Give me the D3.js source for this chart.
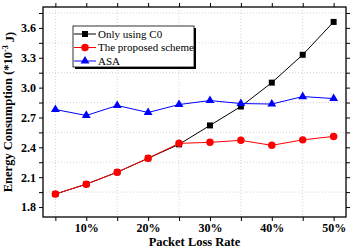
<!DOCTYPE html>
<html>
<head>
<meta charset="utf-8">
<script src="https://cdn.jsdelivr.net/npm/d3@7"></script>
<style>
  body { margin: 0; background: #fff; }
  text { font-family: "Liberation Serif", "Times New Roman", serif; }
</style>
</head>
<body>
<div id="chart"></div>
<script>
const lossRates = [5, 10, 15, 20, 25, 30, 35, 40, 45, 50];
const onlyC0 = [1.93, 2.03, 2.15, 2.29, 2.43, 2.62, 2.81, 3.05, 3.33, 3.66];
const proposed = [1.93, 2.03, 2.15, 2.29, 2.44, 2.45, 2.47, 2.42, 2.475, 2.51];
const asa = [2.78, 2.72, 2.82, 2.75, 2.83, 2.87, 2.84, 2.835, 2.91, 2.89];
const yLabels = [1.8, 2.1, 2.4, 2.7, 3.0, 3.3, 3.6];
const xLabels = [10, 20, 30, 40, 50];
const seriesNames = ["Only using C0", "The proposed scheme", "ASA"];

const width = 357, height = 249;
const margin = { top: 7, right: 11, bottom: 32, left: 43 };
const w = width - margin.left - margin.right;
const h = height - margin.top - margin.bottom;

const svg = d3.select("#chart").append("svg")
  .attr("width", width).attr("height", height);
const g = svg.append("g").attr("transform", `translate(${margin.left},${margin.top})`);

const x = d3.scaleLinear().domain([3, 52]).range([0, w]);
const y = d3.scaleLinear().domain([1.7, 3.81]).range([h, 0]);

const yTicks = d3.range(0, 14).map(i => +(1.8 + i * 0.15).toFixed(2));
const yMinor = yTicks.filter(v => !yLabels.some(l => Math.abs(l - v) < 1e-6));
const xMinor = lossRates.filter(v => !xLabels.includes(v));

// grid at the minor positions
g.append("g").selectAll("line").data(yMinor).join("line")
  .attr("x1", 0).attr("x2", w).attr("y1", d => y(d)).attr("y2", d => y(d))
  .attr("stroke", "#c8c8c8").attr("stroke-width", 0.8).attr("stroke-dasharray", "1,2");
g.append("g").selectAll("line").data(xMinor).join("line")
  .attr("y1", 0).attr("y2", h).attr("x1", d => x(d)).attr("x2", d => x(d))
  .attr("stroke", "#c8c8c8").attr("stroke-width", 0.8).attr("stroke-dasharray", "1,2");

// axes
const fmtY = d => yLabels.some(l => Math.abs(l - d) < 1e-6) ? d3.format(".1f")(d) : "";
const fmtX = d => xLabels.includes(d) ? d + "%" : "";

function styleAxis(sel) {
  sel.select(".domain").remove();
  sel.selectAll("line").attr("stroke", "#000").attr("stroke-width", 1);
  sel.selectAll("text").attr("font-size", "12px").attr("font-weight", "bold").attr("fill", "#000");
}
g.append("g").attr("transform", `translate(0,${h})`)
  .call(d3.axisBottom(x).tickValues(lossRates).tickFormat(fmtX).tickSize(4).tickPadding(2))
  .call(styleAxis);
g.append("g")
  .call(d3.axisTop(x).tickValues(lossRates).tickFormat("").tickSize(4))
  .call(styleAxis);
g.append("g")
  .call(d3.axisLeft(y).tickValues(yTicks).tickFormat(fmtY).tickSize(4).tickPadding(3))
  .call(styleAxis);
g.append("g").attr("transform", `translate(${w},0)`)
  .call(d3.axisRight(y).tickValues(yTicks).tickFormat("").tickSize(4))
  .call(styleAxis);

g.append("rect").attr("width", w).attr("height", h)
  .attr("fill", "none").attr("stroke", "#000").attr("stroke-width", 1.3);

// series
const series = [
  { name: seriesNames[0], values: onlyC0, color: "#000", symbol: d3.symbolSquare, size: 36 },
  { name: seriesNames[1], values: proposed, color: "#ff0000", symbol: d3.symbolCircle, size: 44 },
  { name: seriesNames[2], values: asa, color: "#0000ff", symbol: d3.symbolTriangle, size: 34 }
];
const line = d3.line().x((d, i) => x(lossRates[i])).y(d => y(d));
series.forEach(s => {
  g.append("path").datum(s.values).attr("d", line)
    .attr("fill", "none").attr("stroke", s.color).attr("stroke-width", 1);
  g.append("g").selectAll("path").data(s.values).join("path")
    .attr("transform", (d, i) => `translate(${x(lossRates[i])},${y(d)})`)
    .attr("d", d3.symbol().type(s.symbol).size(s.size))
    .attr("fill", s.color);
});

// legend
const lg = svg.append("g").attr("transform", "translate(73,26)");
lg.append("rect").attr("x", 2).attr("y", 2).attr("width", 121).attr("height", 41).attr("fill", "#000");
lg.append("rect").attr("width", 121).attr("height", 41).attr("fill", "#fff")
  .attr("stroke", "#000").attr("stroke-width", 0.8);
series.forEach((s, i) => {
  const yy = 8 + i * 13.5;
  lg.append("line").attr("x1", 1).attr("x2", 23).attr("y1", yy).attr("y2", yy)
    .attr("stroke", s.color).attr("stroke-width", 1);
  lg.append("path").attr("transform", `translate(12,${yy})`)
    .attr("d", d3.symbol().type(s.symbol).size(s.size)).attr("fill", s.color);
  lg.append("text").attr("x", 25).attr("y", yy).attr("dy", "0.35em")
    .attr("font-size", "11px").attr("fill", "#000").text(s.name);
});

// axis titles
svg.append("text").attr("x", margin.left + w / 2).attr("y", 246)
  .attr("text-anchor", "middle").attr("font-size", "12.5px").attr("font-weight", "bold")
  .text("Packet Loss Rate");
const yt = svg.append("text").attr("transform", `translate(12,${margin.top + h / 2}) rotate(-90)`)
  .attr("text-anchor", "middle").attr("font-size", "12.5px").attr("font-weight", "bold");
yt.append("tspan").text("Energy Consumption (*10");
yt.append("tspan").attr("dy", "-0.45em").attr("font-size", "8px").text("-3");
yt.append("tspan").attr("dy", "0.45em").text(" J)");
</script>
</body>
</html>
